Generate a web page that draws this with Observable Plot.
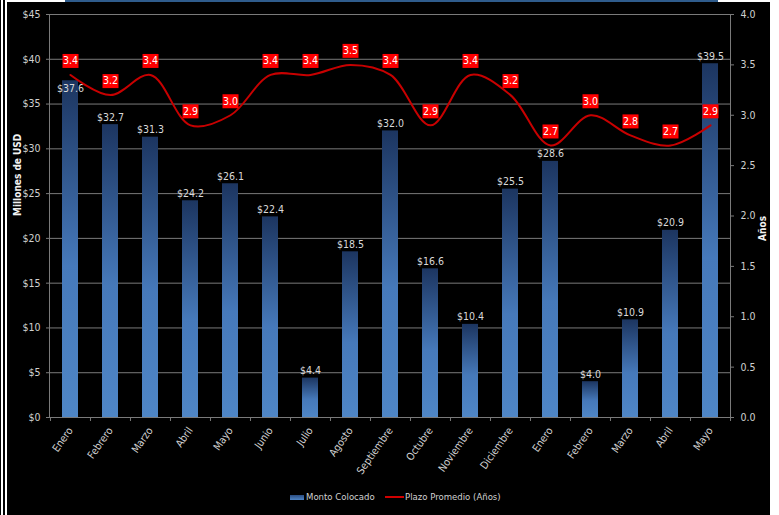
<!DOCTYPE html>
<html><head><meta charset="utf-8">
<script src="https://cdn.jsdelivr.net/npm/d3@7"></script>
<script src="https://cdn.jsdelivr.net/npm/@observablehq/plot@0.6"></script>
<style>
html,body{margin:0;padding:0;background:#fff;}
#page{position:relative;width:779px;height:515px;overflow:hidden;background:#fff;}
.stripe{position:absolute;top:0;height:515px;background:#000;}
#panel{position:absolute;left:7px;top:2px;width:763px;height:513px;background:#000;}
#topbar{position:absolute;left:65px;top:0;width:653px;height:2px;background:#2f5c8c;}
#chart{position:absolute;left:0;top:0;}
#legend{position:absolute;left:0;top:488px;width:763px;height:16px;font-family:"DejaVu Sans Condensed","Liberation Sans Narrow","Arial Narrow",sans-serif;font-size:9.5px;color:#d0d0d0;}
#legend .sw1{position:absolute;left:283px;top:5px;width:14px;height:5px;background:linear-gradient(#2a4c80,#4f84c4);}
#legend .t1{position:absolute;left:299px;top:1px;}
#legend .sw2{position:absolute;left:378px;top:6px;width:19px;height:2px;background:#d00000;}
#legend .t2{position:absolute;left:398px;top:1px;}
</style></head>
<body>
<div id="page">
  <div class="stripe" style="left:0;width:1px"></div>
  <div class="stripe" style="left:3px;width:2px"></div>
  <div id="panel"><div id="chart"></div>
    <div id="legend"><div class="sw1"></div><div class="t1">Monto Colocado</div><div class="sw2"></div><div class="t2">Plazo Promedio (Años)</div></div>
  </div>
  <div id="topbar"></div>
</div>
<script>
const months = ["Enero","Febrero","Marzo","Abril","Mayo","Junio","Julio","Agosto","Septiembre","Octubre","Noviembre","Diciembre","Enero","Febrero","Marzo","Abril","Mayo"];
const montoColocado = [37.6,32.7,31.3,24.2,26.1,22.4,4.4,18.5,32.0,16.6,10.4,25.5,28.6,4.0,10.9,20.9,39.5];
const plazoPromedio = [3.4,3.2,3.4,2.9,3.0,3.4,3.4,3.5,3.4,2.9,3.4,3.2,2.7,3.0,2.8,2.7,2.9];
const usdTicks = [0,5,10,15,20,25,30,35,40,45];
const yearTicks = [0,0.5,1.0,1.5,2.0,2.5,3.0,3.5,4.0];

const K = 45/4; // years -> USD scale factor (4.0 years aligns with $45)
const rows = months.map((m,i)=>({i, m, v: montoColocado[i], p: plazoPromedio[i]}));
const ids = rows.map(d=>d.i);

const W = 763, ML = 42, MR = 40;
const step = (W-ML-MR)/months.length;
const font = `"DejaVu Sans Condensed","Liberation Sans Narrow","Arial Narrow",sans-serif`;

const boxSymbol = {draw(ctx){ ctx.moveTo(-8,-7); ctx.lineTo(8,-7); ctx.lineTo(8,7); ctx.lineTo(-8,7); ctx.closePath(); }};

const defs = () => {
  const s = d3.create("svg:defs");
  const g = s.append("linearGradient").attr("id","barGrad").attr("x1",0).attr("y1",0).attr("x2",0).attr("y2",1);
  g.append("stop").attr("offset","0").attr("stop-color","#1c3560");
  g.append("stop").attr("offset","0.55").attr("stop-color","#4679ba");
  g.append("stop").attr("offset","1").attr("stop-color","#4f86c6");
  return s.node();
};

// place a bar label inside the bar when it would run into the line
const near = d => Math.abs(d.v/K - d.p) < 0.15;

const chart = Plot.plot({
  width: W, height: 485,
  marginLeft: ML, marginRight: MR, marginTop: 12, marginBottom: 70,
  style: {background: "transparent", fontFamily: font, color: "#d0d0d0"},
  x: {domain: ids, paddingInner: 0.6, paddingOuter: 0.3},
  y: {domain: [0,45]},
  marks: [
    defs,
    Plot.gridY(usdTicks, {stroke: "#7a7a7a", strokeOpacity: 1}),
    Plot.frame({stroke: "#7a7a7a"}),
    Plot.barY(rows, {x: "i", y: "v", fill: "url(#barGrad)"}),
    Plot.ruleX(ids, {x: d=>d, y1: 0, y2: -0.45, dx: -step/2, stroke: "#7a7a7a"}),
    Plot.ruleX([ids[ids.length-1]], {x: d=>d, y1: 0, y2: -0.45, dx: step/2, stroke: "#7a7a7a"}),
    Plot.axisY(usdTicks, {anchor: "left", tickSize: 3, tickFormat: () => "", stroke: "#7a7a7a", label: null}),
    Plot.axisY(usdTicks, {anchor: "left", tickSize: 0, tickPadding: 9, tickFormat: d => "$" + d, fill: "#d0d0d0", fontSize: 10.5, label: null}),
    Plot.axisY(yearTicks.map(d=>d*K), {anchor: "right", tickSize: 3, tickFormat: () => "", stroke: "#7a7a7a", label: null}),
    Plot.axisY(yearTicks.map(d=>d*K), {anchor: "right", tickSize: 0, tickPadding: 10, tickFormat: d => (d/K).toFixed(1), fill: "#d0d0d0", fontSize: 10.5, label: null}),
    Plot.axisX(ids, {anchor: "bottom", tickSize: 0, tickPadding: 11, tickRotate: -55, tickFormat: i => months[i], fill: "#d0d0d0", fontSize: 10.5, label: null}),
    Plot.text(["Millones de USD"], {frameAnchor: "left", dx: -32, rotate: -90, fill: "#f2f2f2", fontWeight: "bold", fontSize: 10}),
    Plot.text(["Años"], {frameAnchor: "right", dx: 32, rotate: -90, fill: "#f2f2f2", fontWeight: "bold", fontSize: 10}),
    Plot.text(rows, {x: "i", y: "v", text: d => "$" + d.v.toFixed(1), dy: -4, fill: "#d9d9d9", fontSize: 10.5,
      filter: d => !near(d), lineAnchor: "bottom"}),
    Plot.text(rows, {x: "i", y: "v", text: d => "$" + d.v.toFixed(1), fill: "#d9d9d9", fontSize: 10.5,
      filter: d => near(d), lineAnchor: "top", dy: 4}),
    Plot.line(rows, {x: "i", y: d => d.p*K, curve: "catmull-rom", stroke: "#c80000", strokeWidth: 2}),
    Plot.dot(rows, {x: "i", y: d => d.p*K, dy: -14, symbol: boxSymbol, fill: "#ff0000", stroke: null}),
    Plot.text(rows, {x: "i", y: d => d.p*K, dy: -14, text: d => d.p.toFixed(1), fill: "#ffffff", fontSize: 10.5})
  ]
});
document.getElementById("chart").appendChild(chart);
</script>
</body></html>
